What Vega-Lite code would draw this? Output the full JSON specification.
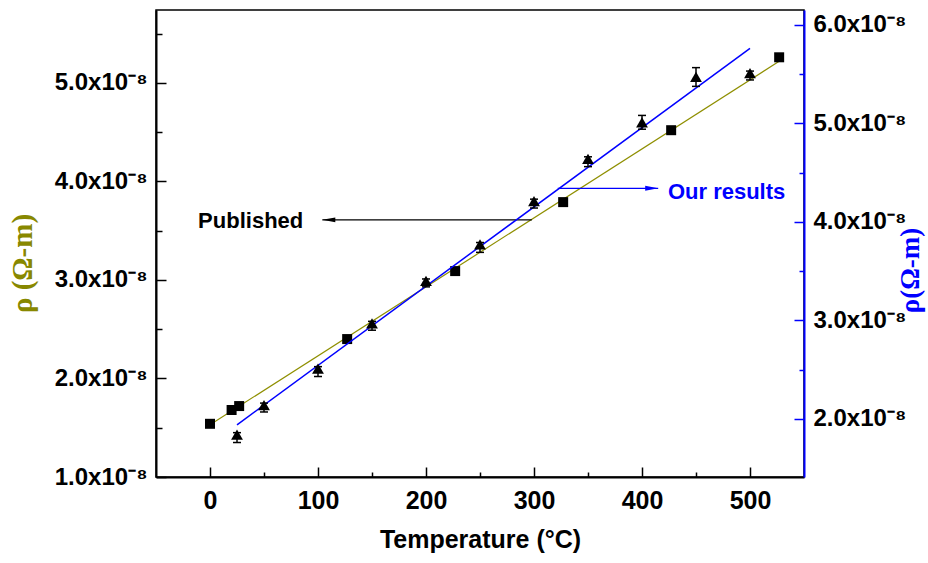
{
  "$schema": "https://vega.github.io/schema/vega-lite/v6.json",
  "width": 648,
  "height": 467,
  "autosize": {"type": "none"},
  "padding": {"left": 156, "top": 10, "right": 124, "bottom": 86},
  "background": "white",
  "config": {
    "view": {"stroke": "#000", "strokeWidth": 1.5},
    "axis": {
      "grid": false,
      "labelFont": "Liberation Sans",
      "labelFontWeight": "bold",
      "labelFontSize": 24,
      "labelColor": "#000",
      "titleFont": "Liberation Sans",
      "titleFontWeight": "bold",
      "titleFontSize": 25,
      "titleColor": "#000",
      "domainColor": "#000",
      "domainWidth": 2,
      "tickColor": "#000",
      "tickWidth": 1.5
    }
  },
  "datasets": {
    "published": [
      {"T": 0, "v": 1.54e-8},
      {"T": 20, "v": 1.68e-8},
      {"T": 27, "v": 1.72e-8},
      {"T": 127, "v": 2.40e-8},
      {"T": 227, "v": 3.09e-8},
      {"T": 327, "v": 3.79e-8},
      {"T": 427, "v": 4.52e-8},
      {"T": 527, "v": 5.26e-8}
    ],
    "ours": [
      {"T": 25, "v": 1.84e-8, "lo": 1.76e-8, "hi": 1.86e-8},
      {"T": 50, "v": 2.14e-8, "lo": 2.07e-8, "hi": 2.16e-8},
      {"T": 100, "v": 2.51e-8, "lo": 2.43e-8, "hi": 2.53e-8},
      {"T": 150, "v": 2.97e-8, "lo": 2.90e-8, "hi": 2.99e-8},
      {"T": 200, "v": 3.40e-8, "lo": 3.34e-8, "hi": 3.42e-8},
      {"T": 250, "v": 3.77e-8, "lo": 3.69e-8, "hi": 3.79e-8},
      {"T": 300, "v": 4.21e-8, "lo": 4.14e-8, "hi": 4.23e-8},
      {"T": 350, "v": 4.64e-8, "lo": 4.56e-8, "hi": 4.66e-8},
      {"T": 400, "v": 5.01e-8, "lo": 4.94e-8, "hi": 5.08e-8},
      {"T": 450, "v": 5.47e-8, "lo": 5.375e-8, "hi": 5.565e-8},
      {"T": 500, "v": 5.51e-8, "lo": 5.44e-8, "hi": 5.53e-8}
    ],
    "pubfit": [{"T": 0, "v": 1.53e-8}, {"T": 527, "v": 5.22e-8}],
    "ourfit": [{"T": 25, "v": 1.94e-8}, {"T": 500, "v": 5.76e-8}],
    "arrowPub": [{"T": 104, "T2": 298, "v": 3.61e-8}],
    "arrowOur": [{"T": 415, "T2": 322, "v": 4.34e-8}],
    "textPub": [{"T": -11, "v": 3.60e-8, "label": "Published"}],
    "textOur": [{"T": 424, "v": 4.30e-8, "label": "Our results"}]
  },
  "encoding": {
    "x": {
      "field": "T",
      "type": "quantitative",
      "scale": {"domain": [-50, 550], "nice": false, "zero": false},
      "axis": null
    }
  },
  "layer": [
    {
      "resolve": {"axis": {"x": "independent", "y": "independent"}},
      "layer": [
        {
          "data": {"name": "pubfit"},
          "mark": {"type": "line", "color": "#8f8f00", "strokeWidth": 1.2},
          "encoding": {
            "x": {
              "field": "T",
              "type": "quantitative",
              "scale": {"domain": [-50, 550], "nice": false, "zero": false},
              "axis": {
                "orient": "bottom",
                "values": [0, 100, 200, 300, 400, 500],
                "tickSize": -10,
                "labelPadding": 21,
                "labelFontSize": 25,
                "title": "Temperature (°C)",
                "titlePadding": 14
              }
            },
            "y": {
              "field": "v",
              "type": "quantitative",
              "scale": {"domain": [1.0e-8, 5.74e-8], "nice": false, "zero": false},
              "axis": {
                "orient": "left",
                "values": [1.0e-8, 2.0e-8, 3.0e-8, 4.0e-8, 5.0e-8],
                "labelExpr": "format(datum.value*1e8, '.1f') + 'x10⁻⁸'",
                "tickSize": -10,
                "labelPadding": 19,
                "title": "ρ (Ω-m)",
                "titleFont": "Liberation Serif",
                "titleFontSize": 29,
                "titleColor": "#888800",
                "titleBaseline": "bottom",
                "titleX": -119,
                "titleY": 253
              }
            }
          }
        },
        {
          "data": {"name": "published"},
          "mark": {"type": "point", "shape": "square", "filled": true, "color": "#000", "opacity": 1, "size": 100},
          "encoding": {
            "x": {
              "field": "T",
              "type": "quantitative",
              "scale": {"domain": [-50, 550], "nice": false, "zero": false},
              "axis": {
                "orient": "bottom",
                "values": [50, 150, 250, 350, 450],
                "tickSize": -5,
                "labels": false,
                "domain": false,
                "title": null
              }
            },
            "y": {
              "field": "v",
              "type": "quantitative",
              "scale": {"domain": [1.0e-8, 5.74e-8], "nice": false, "zero": false},
              "axis": {
                "orient": "left",
                "values": [1.5e-8, 2.5e-8, 3.5e-8, 4.5e-8, 5.5e-8],
                "tickSize": -6,
                "labels": false,
                "domain": false,
                "title": null
              }
            }
          }
        },
        {
          "data": {"name": "arrowPub"},
          "mark": {"type": "rule", "color": "#000", "strokeWidth": 1.2},
          "encoding": {
            "x2": {"field": "T2"},
            "y": {"field": "v", "type": "quantitative", "scale": {"domain": [1.0e-8, 5.74e-8], "nice": false, "zero": false}, "axis": null}
          }
        },
        {
          "data": {"name": "arrowPub"},
          "mark": {"type": "point", "shape": "M0,0L2,-0.38L2,0.38Z", "filled": true, "color": "#000", "opacity": 1, "size": 169},
          "encoding": {
            "y": {"field": "v", "type": "quantitative", "scale": {"domain": [1.0e-8, 5.74e-8], "nice": false, "zero": false}, "axis": null}
          }
        },
        {
          "data": {"name": "textPub"},
          "mark": {"type": "text", "align": "left", "baseline": "middle", "font": "Liberation Sans", "fontWeight": "bold", "fontSize": 22, "color": "#000"},
          "encoding": {
            "y": {"field": "v", "type": "quantitative", "scale": {"domain": [1.0e-8, 5.74e-8], "nice": false, "zero": false}, "axis": null},
            "text": {"field": "label"}
          }
        }
      ]
    },
    {
      "resolve": {"axis": {"y": "independent"}},
      "layer": [
        {
          "data": {"name": "ourfit"},
          "mark": {"type": "line", "color": "#0000ff", "strokeWidth": 1.5},
          "encoding": {
            "y": {
              "field": "v",
              "type": "quantitative",
              "scale": {"domain": [1.41e-8, 6.15e-8], "nice": false, "zero": false},
              "axis": {
                "orient": "right",
                "values": [2.0e-8, 3.0e-8, 4.0e-8, 5.0e-8, 6.0e-8],
                "labelExpr": "format(datum.value*1e8, '.1f') + 'x10⁻⁸'",
                "tickSize": -10,
                "labelPadding": 19,
                "domainColor": "#0000ff",
                "tickColor": "#0000ff",
                "title": "ρ(Ω-m)",
                "titleAngle": 270,
                "titleFont": "Liberation Serif",
                "titleFontSize": 27,
                "titleColor": "#0000ff",
                "titleBaseline": "top",
                "titleX": 93,
                "titleY": 260
              }
            }
          }
        },
        {
          "data": {"name": "ours"},
          "mark": {"type": "rule", "color": "#000", "strokeWidth": 1.5},
          "encoding": {
            "y": {
              "field": "lo",
              "type": "quantitative",
              "scale": {"domain": [1.41e-8, 6.15e-8], "nice": false, "zero": false},
              "axis": {
                "orient": "right",
                "values": [2.5e-8, 3.5e-8, 4.5e-8, 5.5e-8],
                "tickSize": -5,
                "labels": false,
                "domain": false,
                "tickColor": "#0000ff",
                "title": null
              }
            },
            "y2": {"field": "hi"}
          }
        },
        {
          "data": {"name": "ours"},
          "mark": {"type": "tick", "orient": "horizontal", "color": "#000", "thickness": 1.5, "size": 8, "opacity": 1},
          "encoding": {
            "y": {"field": "lo", "type": "quantitative", "scale": {"domain": [1.41e-8, 6.15e-8], "nice": false, "zero": false}, "axis": null}
          }
        },
        {
          "data": {"name": "ours"},
          "mark": {"type": "tick", "orient": "horizontal", "color": "#000", "thickness": 1.5, "size": 8, "opacity": 1},
          "encoding": {
            "y": {"field": "hi", "type": "quantitative", "scale": {"domain": [1.41e-8, 6.15e-8], "nice": false, "zero": false}, "axis": null}
          }
        },
        {
          "data": {"name": "ours"},
          "mark": {"type": "point", "shape": "triangle-up", "filled": true, "color": "#000", "opacity": 1, "size": 140},
          "encoding": {
            "y": {"field": "v", "type": "quantitative", "scale": {"domain": [1.41e-8, 6.15e-8], "nice": false, "zero": false}, "axis": null}
          }
        },
        {
          "data": {"name": "arrowOur"},
          "mark": {"type": "rule", "color": "#0000ff", "strokeWidth": 1.2},
          "encoding": {
            "x2": {"field": "T2"},
            "y": {"field": "v", "type": "quantitative", "scale": {"domain": [1.41e-8, 6.15e-8], "nice": false, "zero": false}, "axis": null}
          }
        },
        {
          "data": {"name": "arrowOur"},
          "mark": {"type": "point", "shape": "M0,0L-2,-0.38L-2,0.38Z", "filled": true, "color": "#0000ff", "opacity": 1, "size": 169},
          "encoding": {
            "y": {"field": "v", "type": "quantitative", "scale": {"domain": [1.41e-8, 6.15e-8], "nice": false, "zero": false}, "axis": null}
          }
        },
        {
          "data": {"name": "textOur"},
          "mark": {"type": "text", "align": "left", "baseline": "middle", "font": "Liberation Sans", "fontWeight": "bold", "fontSize": 22, "color": "#0000ff"},
          "encoding": {
            "y": {"field": "v", "type": "quantitative", "scale": {"domain": [1.41e-8, 6.15e-8], "nice": false, "zero": false}, "axis": null},
            "text": {"field": "label"}
          }
        }
      ]
    }
  ],
  "resolve": {"scale": {"y": "independent"}, "axis": {"y": "independent"}}
}
